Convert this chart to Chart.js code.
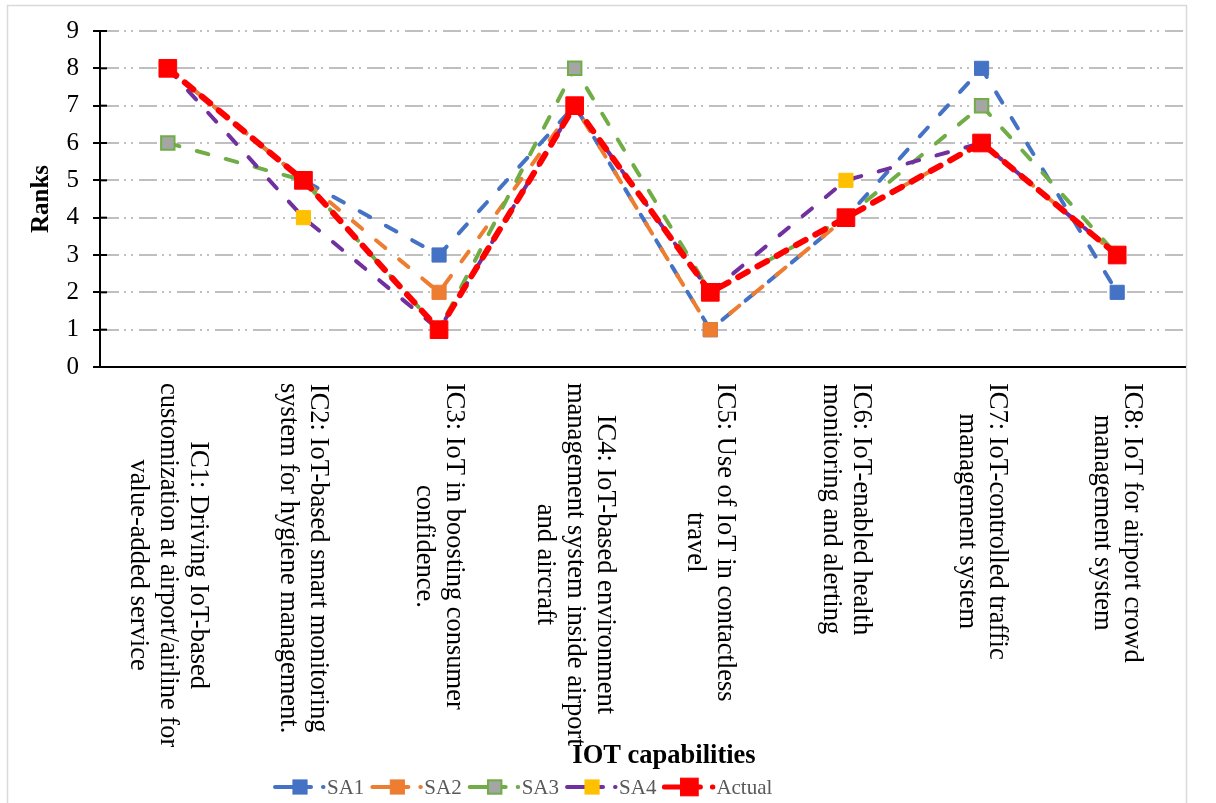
<!DOCTYPE html>
<html>
<head>
<meta charset="utf-8">
<script src="https://cdn.jsdelivr.net/npm/chart.js"></script>
<style>
  html, body { margin: 0; padding: 0; background: #fff; }
</style>
</head>
<body>
<canvas id="rankChart" width="1216" height="803"></canvas>
<script>
// categories (x axis), each one split into its printed lines
const categories = [
  ['IC1: Driving IoT-based', 'customization at airport/airline for', 'value-added service'],
  ['IC2: IoT-based smart monitoring', 'system for hygiene management.'],
  ['IC3: IoT in boosting consumer', 'confidence.'],
  ['IC4: IoT-based environment', 'management system inside airport', 'and aircraft'],
  ['IC5: Use of IoT in contactless', 'travel'],
  ['IC6: IoT-enabled health', 'monitoring and alerting'],
  ['IC7: IoT-controlled traffic', 'management system'],
  ['IC8: IoT for airport crowd', 'management system']
];

const seriesNames = ['SA1', 'SA2', 'SA3', 'SA4', 'Actual'];
const sa1 = [8, 5, 3, 7, 1, 4, 8, 2];
const sa2 = [8, 5, 2, 7, 1, 4, 6, 3];
const sa3 = [6, 5, 1, 8, 2, 4, 7, 3];
const sa4 = [8, 4, 1, 7, 2, 5, 6, 3];
const actual = [8, 5, 1, 7, 2, 4, 6, 3];

const yMin = 0;
const yMax = 9;
const xTitle = 'IOT capabilities';
const yTitle = 'Ranks';

const serif = '"Liberation Serif", "Times New Roman", serif';

// border, category labels, axis title and legend drawn on top of the chart
const decor = {
  id: 'decor',
  beforeDraw(chart) {
    const ctx = chart.ctx;
    ctx.save();
    ctx.fillStyle = '#fff';
    ctx.fillRect(0, 0, chart.width, chart.height);
    ctx.strokeStyle = '#d9d9d9';
    ctx.lineWidth = 1.5;
    ctx.strokeRect(7.5, 5.5, 1179, 830);
    ctx.restore();
  },
  afterDraw(chart) {
    const ctx = chart.ctx;
    const xs = chart.scales.x;
    const ys = chart.scales.y;
    const area = chart.chartArea;

    ctx.save();
    // inner half of the y ticks (they cross the axis)
    ctx.strokeStyle = '#000';
    ctx.lineWidth = 2;
    for (let v = yMin; v <= yMax; v++) {
      const py = ys.getPixelForValue(v);
      ctx.beginPath();
      ctx.moveTo(area.left, py);
      ctx.lineTo(area.left + 7, py);
      ctx.stroke();
    }

    // category labels, turned to read top to bottom
    ctx.fillStyle = '#000';
    ctx.font = '26.5px ' + serif;
    ctx.textAlign = 'center';
    ctx.textBaseline = 'middle';
    const lh = 30;
    const top = area.bottom + 16;
    categories.forEach((lines, i) => {
      const cx = xs.getPixelForValue(i);
      const maxW = Math.max(...lines.map(l => ctx.measureText(l).width));
      lines.forEach((line, k) => {
        const sx = cx + ((lines.length - 1) / 2 - k) * lh;
        ctx.save();
        ctx.translate(sx, top + maxW / 2);
        ctx.rotate(Math.PI / 2);
        ctx.fillText(line, 0, 0);
        ctx.restore();
      });
    });

    // x axis title
    ctx.font = 'bold 26.5px ' + serif;
    ctx.fillText(xTitle, 664, 756);

    // legend: dashed sample, square marker, trailing dot, name
    let lx = 273;
    const ly = 787;
    ctx.font = '21px ' + serif;
    ctx.textAlign = 'left';
    chart.data.datasets.forEach(ds => {
      ctx.save();
      ctx.strokeStyle = ds.borderColor;
      ctx.lineWidth = ds.label === 'Actual' ? 5 : 4;
      ctx.lineCap = 'round';
      ctx.setLineDash([36, 12, 0.5, 200]);
      ctx.beginPath();
      ctx.moveTo(lx + 2, ly);
      ctx.lineTo(lx + 52, ly);
      ctx.stroke();
      ctx.restore();

      const side = ds.pointRadius * Math.SQRT2;
      const mx = lx + 27;
      ctx.fillStyle = ds.pointBackgroundColor;
      ctx.fillRect(mx - side / 2, ly - side / 2, side, side);
      ctx.strokeStyle = ds.pointBorderColor;
      ctx.lineWidth = ds.pointBorderWidth;
      ctx.strokeRect(mx - side / 2, ly - side / 2, side, side);

      ctx.fillStyle = '#595959';
      ctx.fillText(ds.label, lx + 54, ly + 1);
      lx += 54 + ctx.measureText(ds.label).width + 6;
    });
    ctx.restore();
  }
};

const ctx = document.getElementById('rankChart').getContext('2d');
const rankChart = new Chart(ctx, {
  type: 'line',
  data: {
    labels: categories.map(c => c[0].split(':')[0]),
    datasets: [
      {
        label: seriesNames[0], data: sa1, order: 4,
        borderColor: '#4472c4', borderWidth: 4, borderDash: [12, 18], borderCapStyle: 'round',
        pointStyle: 'rect', pointRadius: 10, pointBackgroundColor: '#4472c4',
        pointBorderColor: '#4472c4', pointBorderWidth: 1
      },
      {
        label: seriesNames[1], data: sa2, order: 3,
        borderColor: '#ed7d31', borderWidth: 4, borderDash: [12, 18], borderCapStyle: 'round',
        pointStyle: 'rect', pointRadius: 10, pointBackgroundColor: '#ed7d31',
        pointBorderColor: '#ed7d31', pointBorderWidth: 1
      },
      {
        label: seriesNames[2], data: sa3, order: 2,
        borderColor: '#70ad47', borderWidth: 4, borderDash: [12, 18], borderCapStyle: 'round',
        pointStyle: 'rect', pointRadius: 9.5, pointBackgroundColor: '#a5a5a5',
        pointBorderColor: '#70ad47', pointBorderWidth: 2
      },
      {
        label: seriesNames[3], data: sa4, order: 1,
        borderColor: '#7030a0', borderWidth: 4, borderDash: [12, 18], borderCapStyle: 'round',
        pointStyle: 'rect', pointRadius: 10, pointBackgroundColor: '#ffc000',
        pointBorderColor: '#ffc000', pointBorderWidth: 1
      },
      {
        label: seriesNames[4], data: actual, order: 0,
        borderColor: '#ff0000', borderWidth: 6, borderDash: [11, 11], borderCapStyle: 'round',
        pointStyle: 'rect', pointRadius: 12.5, pointBackgroundColor: '#ff0000',
        pointBorderColor: '#ff0000', pointBorderWidth: 1
      }
    ]
  },
  options: {
    responsive: false,
    animation: false,
    clip: false,
    layout: { padding: { left: 0, right: 31, top: 31, bottom: 0 } },
    elements: { line: { tension: 0 } },
    plugins: {
      legend: { display: false },
      tooltip: { enabled: false }
    },
    scales: {
      x: {
        type: 'category',
        offset: true,
        grid: { display: false },
        border: { color: '#000', width: 2 },
        ticks: { display: false },
        afterFit: s => { s.height = 436; }
      },
      y: {
        min: yMin,
        max: yMax,
        grid: { color: '#bfbfbf', lineWidth: 2, tickColor: '#000', tickWidth: 2, tickLength: 7 },
        border: { color: '#000', width: 2, dash: [18, 5, 2, 5, 2, 6] },
        ticks: {
          stepSize: 1,
          padding: 14,
          color: '#000',
          font: { family: serif, size: 25 }
        },
        title: {
          display: true,
          text: yTitle,
          color: '#000',
          padding: { top: 27, bottom: 0 },
          font: { family: serif, size: 25, weight: 'bold' }
        },
        afterFit: s => { s.width = 100; }
      }
    }
  },
  plugins: [decor]
});
</script>
</body>
</html>
